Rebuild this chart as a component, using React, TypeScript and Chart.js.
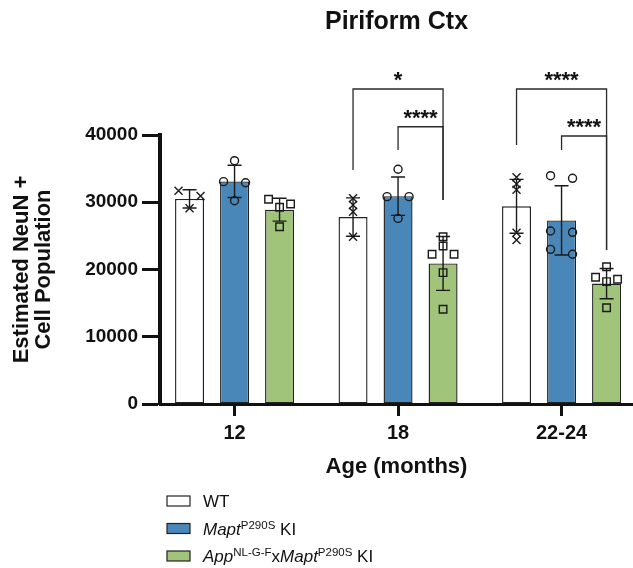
import React, { useEffect, useRef } from 'react';
import { Chart, registerables } from 'chart.js';

Chart.register(...registerables);

// ---------- data ----------
const categories = ['12', '18', '22-24'];
const yTicks = [0, 10000, 20000, 30000, 40000];

const wtMean = [30500, 27800, 29400];
const maptMean = [33100, 30900, 27300];
const appMean = [28900, 20900, 17900];

const wtSD = [1350, 2850, 4000];
const maptSD = [2400, 2850, 5150];
const appSD = [1700, 4000, 2250];

const wtPoints = [
  [31700, 30930, 29100],
  [30590, 29590, 28590, 24880],
  [33700, 32700, 31850, 25470, 24390],
];
const maptPoints = [
  [36180, 33060, 32900, 30230],
  [34900, 30830, 30830, 27600],
  [33950, 33560, 25720, 25530, 23000, 22260],
];
const appPoints = [
  [30440, 29740, 29250, 26360],
  [24880, 23500, 22260, 22260, 19530, 14080],
  [20420, 18840, 18540, 18190, 14320],
];

// significance comparisons (values in y units)
const comparisons = [
  { group: 1, from: 0, to: 2, label: '*', lineValue: 46840, fromEnd: 34800, toEnd: 30330 },
  { group: 1, from: 1, to: 2, label: '****', lineValue: 41230, fromEnd: 37770, toEnd: 30330 },
  { group: 2, from: 0, to: 2, label: '****', lineValue: 46840, fromEnd: 38510, toEnd: 22900 },
  { group: 2, from: 1, to: 2, label: '****', lineValue: 39850, fromEnd: 37770, toEnd: 22900 },
];

const legendRows = [
  [{ t: 'WT' }],
  [{ t: 'Mapt', i: true }, { t: 'P290S', s: true }, { t: ' KI' }],
  [{ t: 'App', i: true }, { t: 'NL-G-F', s: true }, { t: 'x' }, { t: 'Mapt', i: true }, { t: 'P290S', s: true }, { t: ' KI' }],
];

// ---------- styles ----------
const FONT = '"Liberation Sans", Arial, Helvetica, sans-serif';
const INK = '#111111';
const fills = ['#ffffff', '#4a87b9', '#9fc47a'];
const markers = ['x', 'circle', 'square'];

const series = [
  { label: 'WT', mean: wtMean, sd: wtSD, points: wtPoints },
  { label: 'MaptP290S KI', mean: maptMean, sd: maptSD, points: maptPoints },
  { label: 'AppNL-G-FxMaptP290S KI', mean: appMean, sd: appSD, points: appPoints },
];

function drawMarker(ctx: CanvasRenderingContext2D, kind: string, x: number, y: number) {
  ctx.beginPath();
  if (kind === 'x') {
    const r = 4;
    ctx.moveTo(x - r, y - r);
    ctx.lineTo(x + r, y + r);
    ctx.moveTo(x + r, y - r);
    ctx.lineTo(x - r, y + r);
  } else if (kind === 'circle') {
    ctx.arc(x, y, 4, 0, Math.PI * 2);
  } else {
    ctx.rect(x - 3.75, y - 3.75, 7.5, 7.5);
  }
  ctx.stroke();
}

// pair up points that would overlap (GraphPad-like scatter)
function jitter(pixels: number[]): number[] {
  const order = pixels.map((p, i) => i).sort((a, b) => pixels[a] - pixels[b]);
  const out = new Array(pixels.length).fill(0);
  const spread = 11;
  let k = 0;
  while (k < order.length) {
    const a = order[k];
    const b = order[k + 1];
    if (b !== undefined && Math.abs(pixels[b] - pixels[a]) < 5.5) {
      out[a] = -spread;
      out[b] = spread;
      k += 2;
    } else {
      out[a] = 0;
      k += 1;
    }
  }
  return out;
}

const overlayPlugin = {
  id: 'overlay',
  afterDatasetsDraw(chart: any) {
    const ctx: CanvasRenderingContext2D = chart.ctx;
    const yScale = chart.scales.y;
    ctx.save();
    ctx.strokeStyle = '#1a1a1a';
    ctx.lineWidth = 1.4;
    series.forEach((s, di) => {
      const meta = chart.getDatasetMeta(di);
      meta.data.forEach((bar: any, gi: number) => {
        const x = bar.x;
        // points
        const pix = s.points[gi].map((v) => yScale.getPixelForValue(v));
        const offs = jitter(pix);
        pix.forEach((py, k) => drawMarker(ctx, markers[di], x + offs[k], py));
        // error bar
        const top = yScale.getPixelForValue(s.mean[gi] + s.sd[gi]);
        const bot = yScale.getPixelForValue(s.mean[gi] - s.sd[gi]);
        ctx.beginPath();
        ctx.moveTo(x, top);
        ctx.lineTo(x, bot);
        ctx.moveTo(x - 7, top);
        ctx.lineTo(x + 7, top);
        ctx.moveTo(x - 7, bot);
        ctx.lineTo(x + 7, bot);
        ctx.stroke();
      });
    });
    ctx.restore();
  },
  afterDraw(chart: any) {
    const ctx: CanvasRenderingContext2D = chart.ctx;
    const yScale = chart.scales.y;
    ctx.save();
    // brackets
    ctx.strokeStyle = '#2a2a2a';
    ctx.lineWidth = 1.3;
    ctx.fillStyle = INK;
    comparisons.forEach((c) => {
      const x1 = chart.getDatasetMeta(c.from).data[c.group].x;
      const x2 = chart.getDatasetMeta(c.to).data[c.group].x;
      const yl = yScale.getPixelForValue(c.lineValue);
      const y1 = yScale.getPixelForValue(c.fromEnd);
      const y2 = yScale.getPixelForValue(c.toEnd);
      ctx.beginPath();
      ctx.moveTo(x1, y1);
      ctx.lineTo(x1, yl);
      ctx.lineTo(x2, yl);
      ctx.lineTo(x2, y2);
      ctx.stroke();
      ctx.font = `bold 22px ${FONT}`;
      ctx.textAlign = 'center';
      ctx.textBaseline = 'alphabetic';
      ctx.fillText(c.label, (x1 + x2) / 2, yl - 2);
    });
    // legend
    const rowsY = [501, 528.5, 556];
    legendRows.forEach((row, r) => {
      const cy = rowsY[r];
      ctx.fillStyle = fills[r];
      ctx.fillRect(167, cy - 5, 23, 10);
      ctx.strokeStyle = '#222';
      ctx.lineWidth = 1.2;
      ctx.strokeRect(167, cy - 5, 23, 10);
      let x = 203;
      const base = cy + 6;
      ctx.fillStyle = INK;
      ctx.textAlign = 'left';
      ctx.textBaseline = 'alphabetic';
      row.forEach((seg: any) => {
        const size = seg.s ? 11.5 : 17;
        ctx.font = `${seg.i ? 'italic ' : ''}${size}px ${FONT}`;
        const y = seg.s ? base - 6 : base;
        ctx.fillText(seg.t, x, y);
        x += ctx.measureText(seg.t).width;
      });
    });
    ctx.restore();
  },
};

export default function App() {
  const ref = useRef<HTMLCanvasElement | null>(null);

  useEffect(() => {
    document.body.style.margin = '0';
    document.body.style.overflow = 'hidden';
    const canvas = ref.current;
    if (!canvas) return;
    Chart.defaults.font.family = FONT;
    Chart.defaults.color = INK;

    const chart = new Chart(canvas, {
      type: 'bar',
      data: {
        datasets: series.map((s, di) => ({
          label: s.label,
          data: s.mean.map((v, i) => ({ x: i, y: v })),
          backgroundColor: fills[di],
          borderColor: '#222222',
          borderWidth: 1.4,
          borderSkipped: false,
          categoryPercentage: 0.826,
          barPercentage: 0.644,
        })),
      },
      options: {
        animation: false,
        responsive: false,
        devicePixelRatio: 1,
        layout: { padding: 0 },
        plugins: {
          legend: { display: false },
          tooltip: { enabled: false },
          title: {
            display: true,
            text: 'Piriform Ctx',
            fullSize: false,
            color: INK,
            font: { family: FONT, size: 25, weight: 'bold', lineHeight: 1.2 },
            padding: { top: 7, bottom: 98 },
          },
        },
        scales: {
          x: {
            type: 'linear',
            min: -0.456,
            max: 2.437,
            offset: false,
            afterBuildTicks: (axis: any) => {
              axis.ticks = categories.map((_, i) => ({ value: i }));
            },
            afterFit: (axis: any) => {
              axis.height = 164;
            },
            ticks: {
              autoSkip: false,
              maxRotation: 0,
              padding: 5,
              color: INK,
              font: { family: FONT, size: 20, weight: 'bold', lineHeight: 1.2 },
              callback: (v: any) => categories[v] ?? '',
            },
            grid: {
              offset: false,
              drawOnChartArea: false,
              drawTicks: true,
              tickLength: 12,
              tickWidth: 3,
              tickColor: INK,
            },
            border: { display: true, width: 3, color: INK },
            title: {
              display: true,
              text: 'Age (months)',
              color: INK,
              font: { family: FONT, size: 22, weight: 'bold', lineHeight: 1.2 },
              padding: { top: 0, bottom: 88 },
            },
          },
          y: {
            type: 'linear',
            min: 0,
            max: 40000,
            afterBuildTicks: (axis: any) => {
              axis.ticks = yTicks.map((v) => ({ value: v }));
            },
            afterFit: (axis: any) => {
              axis.width = 160;
            },
            ticks: {
              padding: 4,
              color: INK,
              font: { family: FONT, size: 19, weight: 'bold' },
              callback: (v: any) => String(v),
            },
            grid: {
              drawOnChartArea: false,
              drawTicks: true,
              tickLength: 18,
              tickWidth: 3,
              tickColor: INK,
            },
            border: { display: true, width: 4, color: INK },
            title: {
              display: true,
              text: ['Estimated NeuN +', 'Cell Population'],
              color: INK,
              font: { family: FONT, size: 22, weight: 'bold', lineHeight: 1.0 },
              padding: { top: 11, bottom: 0 },
            },
          },
        },
      },
      plugins: [overlayPlugin],
    } as any);

    return () => chart.destroy();
  }, []);

  return (
    <div style={{ width: 633, height: 568 }}>
      <canvas ref={ref} width={633} height={568} style={{ display: 'block' }} />
    </div>
  );
}
